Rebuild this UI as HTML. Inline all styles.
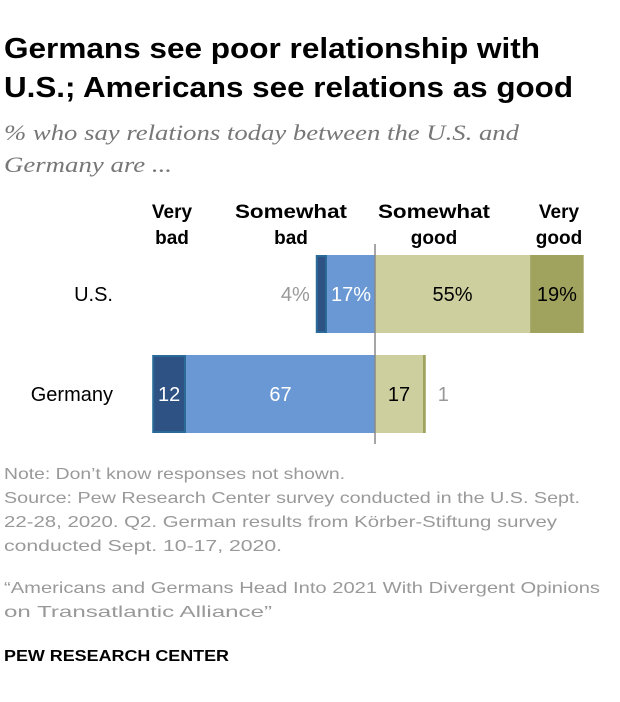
<!DOCTYPE html>
<html><head><meta charset="utf-8"><style>
body{margin:0;background:#fff;width:620px;height:702px;overflow:hidden;font-family:"Liberation Sans",sans-serif}
svg{position:absolute;left:0;top:0}
</style></head><body>
<svg width="620" height="702">
<text x="4" y="58" font-size="29" font-weight="bold" fill="#000" textLength="536" lengthAdjust="spacingAndGlyphs">Germans see poor relationship with</text>
<text x="4" y="97" font-size="29" font-weight="bold" fill="#000" textLength="569" lengthAdjust="spacingAndGlyphs">U.S.; Americans see relations as good</text>
<text x="4" y="140" font-size="22" font-style="italic" fill="#777" font-family="Liberation Serif,serif" textLength="515" lengthAdjust="spacingAndGlyphs">% who say relations today between the U.S. and</text>
<text x="4" y="172" font-size="22" font-style="italic" fill="#777" font-family="Liberation Serif,serif" textLength="168" lengthAdjust="spacingAndGlyphs">Germany are ...</text>
<g font-size="19" font-weight="bold" text-anchor="middle">
<text x="172" y="218">Very</text><text x="172" y="244">bad</text>
<text x="291" y="218" textLength="112" lengthAdjust="spacingAndGlyphs">Somewhat</text><text x="291" y="244">bad</text>
<text x="434" y="218" textLength="112" lengthAdjust="spacingAndGlyphs">Somewhat</text><text x="434" y="244">good</text>
<text x="559" y="218">Very</text><text x="559" y="244">good</text>
</g>
<g id="bars"></g>
<line x1="375" y1="244" x2="375" y2="444" stroke="#888" stroke-width="1.5"/>
<g font-size="16" fill="#999" lengthAdjust="spacingAndGlyphs">
<text x="4" y="479" textLength="341" lengthAdjust="spacingAndGlyphs">Note: Don’t know responses not shown.</text>
<text x="4" y="503" textLength="576" lengthAdjust="spacingAndGlyphs">Source: Pew Research Center survey conducted in the U.S. Sept.</text>
<text x="4" y="527" textLength="553" lengthAdjust="spacingAndGlyphs">22-28, 2020. Q2. German results from Körber-Stiftung survey</text>
<text x="4" y="551" textLength="278" lengthAdjust="spacingAndGlyphs">conducted Sept. 10-17, 2020.</text>
<text x="4" y="593" textLength="596" lengthAdjust="spacingAndGlyphs">“Americans and Germans Head Into 2021 With Divergent Opinions</text>
<text x="4" y="617" textLength="268" lengthAdjust="spacingAndGlyphs">on Transatlantic Alliance”</text>
</g>
<text x="4" y="661" font-size="16" font-weight="bold" fill="#000" textLength="225" lengthAdjust="spacingAndGlyphs">PEW RESEARCH CENTER</text>
</svg>
<script>
const categories=["U.S.","Germany"];
const veryBad=[4,12];
const somewhatBad=[17,67];
const somewhatGood=[55,17];
const veryGood=[19,1];
const pct=[true,false];
const NS="http://www.w3.org/2000/svg";
const g=document.getElementById("bars");
const cx=375,sc=2.82,rowY=[255,355],h=78;
const x=v=>cx+v*sc;
function mk(tag,a){const e=document.createElementNS(NS,tag);for(const k in a)e.setAttribute(k,a[k]);g.appendChild(e);return e;}
function txt(s,tx,ty,fill,anchor){const t=mk("text",{x:tx,y:ty,"font-size":20,fill:fill,"text-anchor":anchor});t.textContent=s;return t;}
categories.forEach((c,i)=>{
 const y=rowY[i],my=y+h/2+7,p=pct[i]?"%":"";
 const l=txt(c,113,my,"#000","end");
 
 
 const sb=somewhatBad[i],vb=veryBad[i],sg=somewhatGood[i],vg=veryGood[i];
 let r=mk("rect",{x:x(-sb),y:y,width:sb*sc,height:h,fill:"#6a98d4"});
 
 
 r=mk("rect",{x:x(-sb-vb)+1,y:y+1,width:vb*sc-2,height:h-2,fill:"#2e5283",stroke:"#2a6a98","stroke-width":2});
 
 
 r=mk("rect",{x:x(0),y:y,width:sg*sc,height:h,fill:"#cdcf9f"});
 
 
 r=mk("rect",{x:x(sg),y:y,width:vg*sc,height:h,fill:"#a0a35e"});
 
 
 let t;
 if(vb*sc<25){t=txt(vb+p,x(-sb-vb)-6,my,"#999","end");}else{t=txt(vb+p,x(-sb-vb/2),my,"#fff","middle");}
 
 
 t=txt(sb+p,x(-sb/2),my,"#fff","middle");
 
 
 t=txt(sg+p,x(sg/2),my,"#000","middle");
 
 
 if(vg*sc<25){t=txt(vg+p,x(sg+vg)+12,my,"#999","start");}else{t=txt(vg+p,x(sg+vg/2),my,"#000","middle");}
 
 
});
</script>
</body></html>
